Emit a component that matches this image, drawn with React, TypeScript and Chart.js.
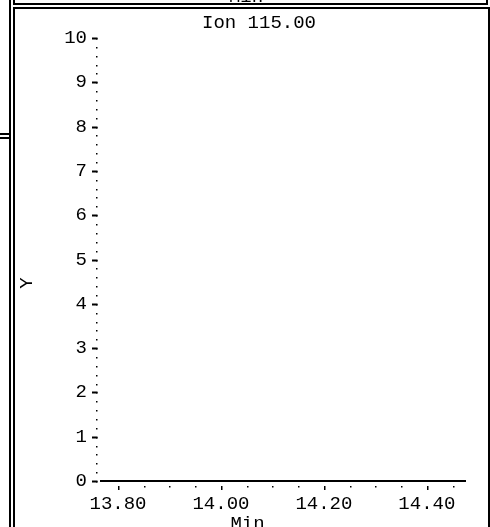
import React, { useEffect, useRef } from 'react';
import { Chart, registerables } from 'chart.js';

Chart.register(...registerables);

// ---- chart content ----
const chartTitle = 'Ion 115.00';
const xAxisTitle = 'Min';
const yAxisTitle = 'Y';
const xTickValues = [13.8, 14.0, 14.2, 14.4];
const xTickLabels = ['13.80', '14.00', '14.20', '14.40'];
const xRange = [13.765, 14.476];
const xMinorStep = 0.05;
const yRange = [0, 10];
const yMajorStep = 1;
const yMinorStep = 0.2;
// the trace for this ion is empty in the reference
const seriesX: number[] = [];
const seriesY: number[] = [];

const FONT = '"Liberation Mono", "DejaVu Sans Mono", monospace';
const FONT_SIZE = 19;

const decorPlugin = {
  id: 'decor',
  beforeDraw(chart: any) {
    const ctx = chart.ctx;
    ctx.save();
    ctx.fillStyle = '#ffffff';
    ctx.fillRect(0, 0, chart.width, chart.height);
    ctx.restore();
  },
  afterDraw(chart: any) {
    const ctx = chart.ctx;
    const xs = chart.scales.x;
    const ys = chart.scales.y;
    const area = chart.chartArea;
    ctx.save();
    ctx.fillStyle = '#000';
    // x axis baseline
    ctx.fillRect(area.left, Math.round(area.bottom) - 1, area.right - area.left, 2);
    // x major ticks
    xTickValues.forEach((v) => {
      const px = Math.round(xs.getPixelForValue(v));
      ctx.fillRect(px, area.bottom + 5, 1.5, 4);
    });
    // x minor dots
    const nMinor = Math.round((xRange[1] - xTickValues[0]) / xMinorStep);
    for (let k = 0; k <= nMinor; k++) {
      const v = xTickValues[0] + k * xMinorStep;
      if (v > xRange[1]) break;
      if (k % 4 === 0) continue;
      const px = Math.round(xs.getPixelForValue(v));
      ctx.fillRect(px, area.bottom + 5, 1.5, 1.5);
    }
    // y dotted axis
    const ax = Math.round(area.left) - 4;
    const nY = Math.round((yRange[1] - yRange[0]) / yMinorStep);
    for (let k = 0; k <= nY; k++) {
      const v = yRange[0] + k * yMinorStep;
      const py = Math.round(ys.getPixelForValue(v));
      ctx.fillRect(ax, py, 1.5, 1.5);
    }
    // y major dashes
    for (let v = yRange[0]; v <= yRange[1]; v += yMajorStep) {
      const py = Math.round(ys.getPixelForValue(v));
      ctx.fillRect(ax - 4, py - 0.5, 5.5, 2);
    }
    // texts
    ctx.font = `${FONT_SIZE}px ${FONT}`;
    ctx.textAlign = 'center';
    ctx.textBaseline = 'alphabetic';
    ctx.fillText(chartTitle, 259, 28);
    ctx.fillText(xAxisTitle, 247.5, 529);
    ctx.fillText(xAxisTitle, 246, 2);
    ctx.save();
    ctx.translate(27, 283);
    ctx.rotate(-Math.PI / 2);
    ctx.textBaseline = 'middle';
    ctx.fillText(yAxisTitle, 0, 0);
    ctx.restore();
    ctx.restore();
  },
};

const frameLines = [
  { left: 9, top: 0, width: 2, height: 527 },
  { left: 13, top: 0, width: 2, height: 5 },
  { left: 13, top: 3, width: 475, height: 2 },
  { left: 486, top: 0, width: 2, height: 5 },
  { left: 13, top: 7, width: 477, height: 2 },
  { left: 13, top: 7, width: 2, height: 520 },
  { left: 488, top: 7, width: 2, height: 520 },
  { left: 0, top: 133, width: 11, height: 2 },
  { left: 0, top: 137, width: 10, height: 2 },
];

export default function App() {
  const ref = useRef<HTMLCanvasElement>(null);
  useEffect(() => {
    if (!ref.current) return;
    const chart = new Chart(ref.current, {
      type: 'scatter',
      data: {
        datasets: [
          {
            label: chartTitle,
            data: seriesX.map((x, i) => ({ x, y: seriesY[i] })),
            borderColor: '#000',
            backgroundColor: '#000',
            showLine: true,
            pointRadius: 0,
          },
        ],
      },
      options: {
        responsive: false,
        animation: false,
        events: [],
        layout: { padding: { top: 38, right: 24, bottom: 0, left: 0 } },
        plugins: { legend: { display: false }, title: { display: false }, tooltip: { enabled: false } },
        scales: {
          x: {
            type: 'linear',
            min: xRange[0],
            max: xRange[1],
            grid: { display: false, drawTicks: false },
            border: { display: false },
            afterBuildTicks: (scale: any) => {
              scale.ticks = xTickValues.map((v) => ({ value: v }));
            },
            afterFit: (scale: any) => {
              scale.height = 46;
            },
            ticks: {
              autoSkip: false,
              maxRotation: 0,
              minRotation: 0,
              padding: 12,
              color: '#000',
              font: { family: FONT, size: FONT_SIZE },
              callback: (_v: any, i: number) => xTickLabels[i],
            },
          },
          y: {
            type: 'linear',
            min: yRange[0],
            max: yRange[1],
            grid: { display: false, drawTicks: false },
            border: { display: false },
            afterFit: (scale: any) => {
              scale.width = 100;
            },
            ticks: {
              stepSize: yMajorStep,
              padding: 13,
              color: '#000',
              font: { family: FONT, size: FONT_SIZE },
              callback: (v: any) => String(v),
            },
          },
        },
      },
      plugins: [decorPlugin],
    });
    return () => chart.destroy();
  }, []);

  return (
    <div style={{ position: 'fixed', left: 0, top: 0, width: 490, height: 527, background: '#fff', overflow: 'hidden' }}>
      <canvas ref={ref} width={490} height={527} style={{ position: 'absolute', left: 0, top: 0, width: 490, height: 527 }} />
      {frameLines.map((l, i) => (
        <div key={i} style={{ position: 'absolute', left: l.left, top: l.top, width: l.width, height: l.height, background: '#000' }} />
      ))}
    </div>
  );
}
